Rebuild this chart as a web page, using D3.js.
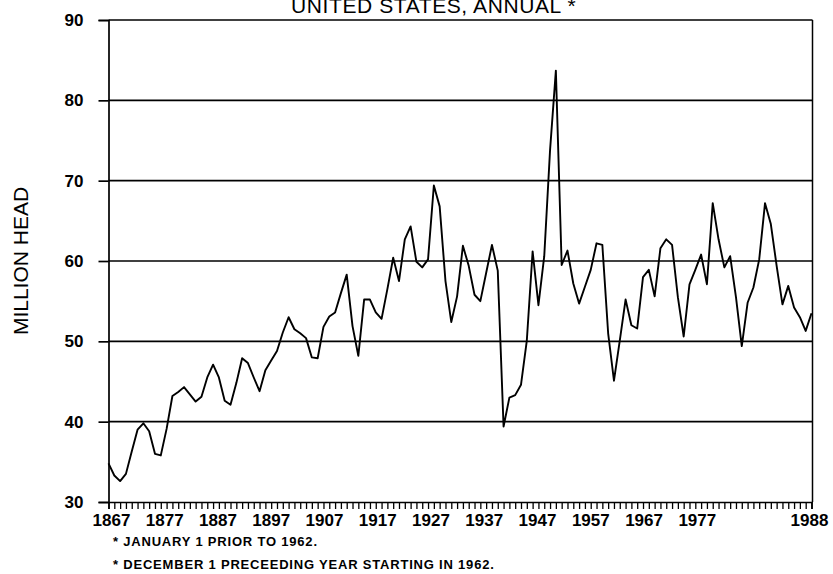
<!DOCTYPE html>
<html>
<head>
<meta charset="utf-8">
<script src="https://cdn.jsdelivr.net/npm/d3@7"></script>
<style>
  body { margin: 0; background: #fff; }
  svg { display: block; font-family: "Liberation Sans", Arial, sans-serif; }
</style>
</head>
<body>
<svg width="833" height="574"></svg>
<script>
// hogs on farms, million head, one value per year from 1867
const firstYear = 1867;
const hogs = [
  34.8, 33.3, 32.6, 33.5, 36.3, 39.0, 39.8, 38.8, 36.0, 35.8,   // 1867-1876
  39.1, 43.2, 43.7, 44.3, 43.4, 42.5, 43.1, 45.5, 47.1, 45.5,   // 1877-1886
  42.6, 42.1, 44.8, 47.9, 47.3, 45.5, 43.8, 46.4, 47.6, 48.8,   // 1887-1896
  51.1, 53.0, 51.5, 51.0, 50.4, 48.0, 47.9, 51.8, 53.1, 53.6,   // 1897-1906
  56.0, 58.3, 51.9, 48.2, 55.2, 55.2, 53.6, 52.8, 56.5, 60.4,   // 1907-1916
  57.5, 62.7, 64.3, 59.9, 59.2, 60.2, 69.4, 66.8, 57.5, 52.4,   // 1917-1926
  55.6, 61.9, 59.4, 55.8, 55.0, 58.5, 62.0, 58.8, 39.4, 43.0,   // 1927-1936
  43.3, 44.6, 50.1, 61.2, 54.5, 60.6, 73.8, 83.7, 59.5, 61.3,   // 1937-1946
  57.2, 54.7, 56.8, 58.9, 62.2, 62.0, 51.0, 45.1, 50.1, 55.2,   // 1947-1956
  52.0, 51.6, 58.0, 58.9, 55.6, 61.6, 62.7, 62.0, 55.5, 50.6,   // 1957-1966
  57.1, 58.9, 60.8, 57.1, 67.2, 62.7, 59.2, 60.6, 55.5, 49.4,   // 1967-1976
  54.8, 56.7, 60.2, 67.2, 64.6, 59.4, 54.6, 56.9, 54.2, 53.0,   // 1977-1986
  51.3, 53.5                                                    // 1987-1988
];
const years = hogs.map((_, i) => firstYear + i);

const yTicks = [30, 40, 50, 60, 70, 80, 90];
const xLabels = [1867, 1877, 1887, 1897, 1907, 1917, 1927, 1937, 1947, 1957, 1967, 1977];
const lastLabel = 1988;
const title = 'UNITED STATES, ANNUAL *';
const yTitle = 'MILLION HEAD';
const notes = ['* JANUARY 1 PRIOR TO 1962.', '* DECEMBER 1 PRECEEDING YEAR STARTING IN 1962.'];

const svg = d3.select('svg');

const x = d3.scaleLinear().domain([1867, 1988]).range([108.5, 811.5]);
const y = d3.scaleLinear().domain([30, 90]).range([502, 20]);

// the plotter spaced the decade labels a bit tighter than the year ticks
const labelX = d3.scaleLinear().domain([1867, 1977]).range([x(1867) + 3, x(1968) + 2]);

// horizontal grid lines
svg.append('g')
  .selectAll('line')
  .data(yTicks.slice(1))
  .join('line')
  .attr('x1', x(1867))
  .attr('x2', x(1988) + 1)
  .attr('y1', d => y(d))
  .attr('y2', d => y(d))
  .attr('stroke', '#000')
  .attr('stroke-width', 1.7);

// right border
svg.append('line')
  .attr('x1', x(1988) + 1).attr('x2', x(1988) + 1)
  .attr('y1', y(90)).attr('y2', y(30))
  .attr('stroke', '#000').attr('stroke-width', 1.5);

// y axis
const yAxis = svg.append('g')
  .attr('transform', `translate(${x(1867)},0)`)
  .call(d3.axisLeft(y).tickValues(yTicks).tickSize(10).tickPadding(15));
yAxis.select('.domain').attr('stroke-width', 1.7);
yAxis.selectAll('.tick line').attr('stroke-width', 1.7);
yAxis.selectAll('.tick text')
  .attr('font-family', '"Liberation Sans", Arial, sans-serif')
  .attr('font-size', 17)
  .attr('font-weight', 'bold')
  .attr('fill', '#000');

// x axis: a tick every year, no labels
const xAxis = svg.append('g')
  .attr('transform', `translate(0,${y(30)})`)
  .call(d3.axisBottom(x).tickValues(years).tickSize(7).tickFormat(''));
xAxis.select('.domain').attr('stroke-width', 1.7);
xAxis.selectAll('.tick line').attr('stroke-width', 1.3);

// decade labels
svg.append('g')
  .attr('font-size', 17)
  .attr('font-weight', 'bold')
  .attr('text-anchor', 'middle')
  .selectAll('text')
  .data(xLabels)
  .join('text')
  .attr('x', d => labelX(d))
  .attr('y', 526)
  .text(d => d);

svg.append('text')
  .attr('x', x(lastLabel) - 2)
  .attr('y', 526)
  .attr('text-anchor', 'middle')
  .attr('font-size', 17)
  .attr('font-weight', 'bold')
  .text(lastLabel);

// data line
svg.append('path')
  .datum(hogs)
  .attr('fill', 'none')
  .attr('stroke', '#000')
  .attr('stroke-width', 1.9)
  .attr('stroke-linejoin', 'round')
  .attr('d', d3.line().x((d, i) => x(years[i])).y(d => y(d)));

// title, its top runs off the page as in the original
svg.append('text')
  .attr('x', 291)
  .attr('y', 13)
  .attr('font-size', 21)
  .attr('letter-spacing', 0.6)
  .text(title);

// y axis title
svg.append('text')
  .attr('transform', `translate(28,${y(60)}) rotate(-90)`)
  .attr('text-anchor', 'middle')
  .attr('font-size', 21)
  .text(yTitle);

// footnotes
svg.append('g')
  .attr('font-size', 13)
  .attr('font-weight', 'bold')
  .attr('letter-spacing', 0.8)
  .selectAll('text')
  .data(notes)
  .join('text')
  .attr('x', 113)
  .attr('y', (d, i) => 546 + i * 23)
  .text(d => d);
</script>
</body>
</html>
